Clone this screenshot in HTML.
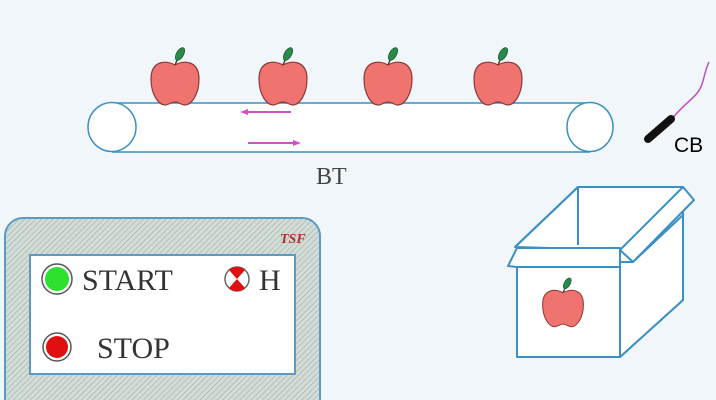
<!DOCTYPE html>
<html><head><meta charset="utf-8"><style>
html,body{margin:0;padding:0;background:#f1f6fa;}
svg{display:block}
</style></head><body>
<svg width="716" height="400" viewBox="0 0 716 400" xmlns="http://www.w3.org/2000/svg">
<defs>
<g id="apple">
<path d="M0,-18 C-8,-23 -24,-23 -24,-4 C-24,12 -16,22 -10,22 C-6,22 -4,19 0,19 C4,19 6,22 10,22 C16,22 24,12 24,-4 C24,-23 8,-23 0,-18Z" fill="#ef7470" stroke="#8a3a38" stroke-width="1.2"/>
<line x1="0" y1="-18" x2="3" y2="-25" stroke="#5a3a20" stroke-width="1.5"/>
<ellipse cx="5" cy="-29" rx="3.5" ry="7" transform="rotate(30 5 -29)" fill="#2a8a4a" stroke="#1b5a30" stroke-width="0.8"/>
</g>
<pattern id="hatch" width="4" height="4" patternUnits="userSpaceOnUse" patternTransform="rotate(45)">
<rect width="4" height="4" fill="#d3ddd8"/>
<line x1="0" y1="0" x2="0" y2="4" stroke="#9aaba3" stroke-width="1.1"/>
</pattern>
</defs>
<rect width="716" height="400" fill="#f1f6fa"/>

<!-- conveyor -->
<rect x="112" y="103" width="478" height="49" fill="#fff"/>
<line x1="112" y1="103" x2="590" y2="103" stroke="#3a8fc4" stroke-width="1.5"/>
<line x1="112" y1="152" x2="590" y2="152" stroke="#3a8fc4" stroke-width="1.5"/>
<ellipse cx="112" cy="127" rx="24" ry="24.5" fill="#fff" stroke="#3a8fc4" stroke-width="1.5"/>
<ellipse cx="590" cy="127" rx="23" ry="24.5" fill="#fff" stroke="#3a8fc4" stroke-width="1.5"/>
<line x1="246" y1="112" x2="291" y2="112" stroke="#d050c8" stroke-width="2"/>
<path d="M240,112 L248,109 L248,115Z" fill="#d050c8"/>
<line x1="248" y1="143" x2="294" y2="143" stroke="#d050c8" stroke-width="2"/>
<path d="M301,143 L293,140 L293,146Z" fill="#d050c8"/>

<use href="#apple" x="175" y="83"/>
<use href="#apple" x="283" y="83"/>
<use href="#apple" x="388" y="83"/>
<use href="#apple" x="498" y="83"/>

<text x="316" y="184" font-family="Liberation Serif, serif" font-size="24" fill="#444">BT</text>

<!-- sensor -->
<path d="M673,118 C680,108 692,100 698,92 C704,84 704,72 709,62" fill="none" stroke="#c050c0" stroke-width="1.5"/>
<line x1="648" y1="139" x2="671" y2="119" stroke="#111" stroke-width="8" stroke-linecap="round"/>
<text x="674" y="152" font-family="Liberation Sans, sans-serif" font-size="21" fill="#000">CB</text>

<!-- box -->
<g fill="#fff" stroke="#3a8fc4" stroke-width="2" stroke-linejoin="round">
<polygon points="578,187 683,187 683,300 620,357 620,250 515,247"/>
<polygon points="620,262 633,262 683,215 683,300 620,357"/>
<line x1="578" y1="187" x2="578" y2="245"/>
<polygon points="620,250 683,187 694,200 633,262"/>
<polygon points="508,266 517,248 620,248 620,267 517,267"/>
<rect x="517" y="267" width="103" height="90"/>
<line x1="515" y1="247" x2="578" y2="187"/>
</g>
<use href="#apple" x="563" y="308" transform="translate(563 308) scale(0.85) translate(-563 -308)"/>

<!-- panel -->
<rect x="5" y="218" width="315" height="200" rx="18" fill="url(#hatch)" stroke="#5a9ac4" stroke-width="2"/>
<rect x="30" y="255" width="265" height="119" fill="#fff" stroke="#5a9ac4" stroke-width="2"/>
<text x="280" y="243" font-family="Liberation Serif, serif" font-size="14" font-weight="bold" font-style="italic" fill="#b03030">TSF</text>
<circle cx="57" cy="279" r="15" fill="#fff" stroke="#555" stroke-width="1.5"/>
<circle cx="57" cy="279" r="12" fill="#2ee02e"/>
<text x="82" y="290" font-family="Liberation Serif, serif" font-size="30" fill="#333">START</text>
<circle cx="57" cy="347" r="14" fill="#fff" stroke="#555" stroke-width="1.5"/>
<circle cx="57" cy="347" r="11" fill="#e01010"/>
<text x="97" y="358" font-family="Liberation Serif, serif" font-size="30" fill="#333">STOP</text>
<circle cx="237" cy="279" r="12" fill="#fff" stroke="#666" stroke-width="1.5"/>
<path d="M229,270 L245,270 L237,279Z M229,288 L245,288 L237,279Z" fill="#e01010"/>
<path d="M229,270 A12,12 0 0 1 245,270Z M229,288 A12,12 0 0 0 245,288Z" fill="#e01010"/>
<text x="259" y="290" font-family="Liberation Serif, serif" font-size="30" fill="#333">H</text>
</svg>
</body></html>
